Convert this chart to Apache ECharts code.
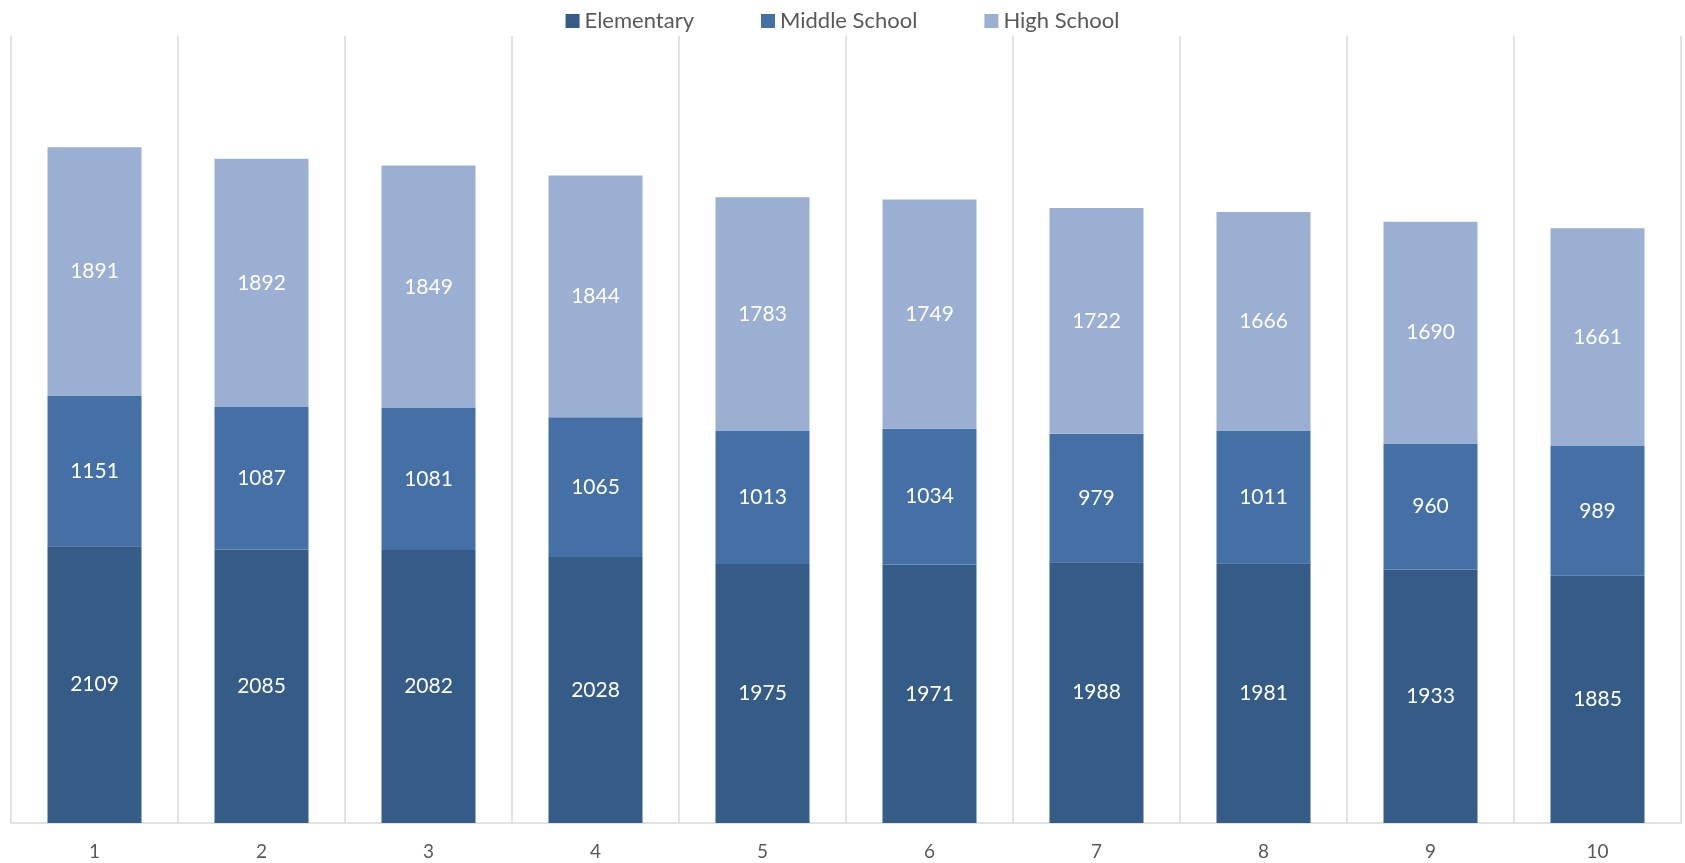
<!DOCTYPE html>
<html>
<head>
<meta charset="utf-8">
<script src="https://cdn.jsdelivr.net/npm/echarts@6/dist/echarts.min.js"></script>
<style>
  html, body { margin: 0; padding: 0; background: #fff; }
  #chart { width: 1685px; height: 863px; }
</style>
</head>
<body>
<div id="chart"></div>
<script>
const categories = ['1', '2', '3', '4', '5', '6', '7', '8', '9', '10']
const elementary = [2109, 2085, 2082, 2028, 1975, 1971, 1988, 1981, 1933, 1885]
const middleSchool = [1151, 1087, 1081, 1065, 1013, 1034, 979, 1011, 960, 989]
const highSchool = [1891, 1892, 1849, 1844, 1783, 1749, 1722, 1666, 1690, 1661]

const font = 'Lato, "Open Sans", sans-serif'

function makeSeries(name, data, color) {
  return {
    name,
    type: 'bar',
    stack: 'total',
    data,
    barWidth: 94,
    itemStyle: { color },
    label: {
      show: true,
      position: 'inside',
      color: '#ffffff',
      fontFamily: font,
      fontSize: 21,
    },
  }
}

const chart = echarts.init(document.getElementById('chart'))
chart.setOption({
  animation: false,
  legend: {
    top: 5,
    left: 'center',
    itemWidth: 14,
    itemHeight: 14,
    itemGap: 67,
    icon: 'rect',
    textStyle: { color: '#595959', fontFamily: font, fontSize: 22 },
  },
  grid: { left: 11, right: 4, top: 36, bottom: 40 },
  xAxis: {
    type: 'category',
    data: categories,
    axisLine: { lineStyle: { color: '#d9d9d9', width: 1.5 } },
    axisTick: { show: false },
    splitLine: { show: true, lineStyle: { color: '#d9d9d9', width: 1.5 } },
    axisLabel: { color: '#595959', fontFamily: font, fontSize: 19, margin: 19 },
  },
  yAxis: {
    type: 'value',
    min: 0,
    max: 6000,
    show: false,
    splitLine: { show: false },
  },
  series: [
    makeSeries('Elementary', elementary, '#355b87'),
    makeSeries('Middle School', middleSchool, '#4470a5'),
    makeSeries('High School', highSchool, '#9aafd1'),
  ],
})
</script>
</body>
</html>
